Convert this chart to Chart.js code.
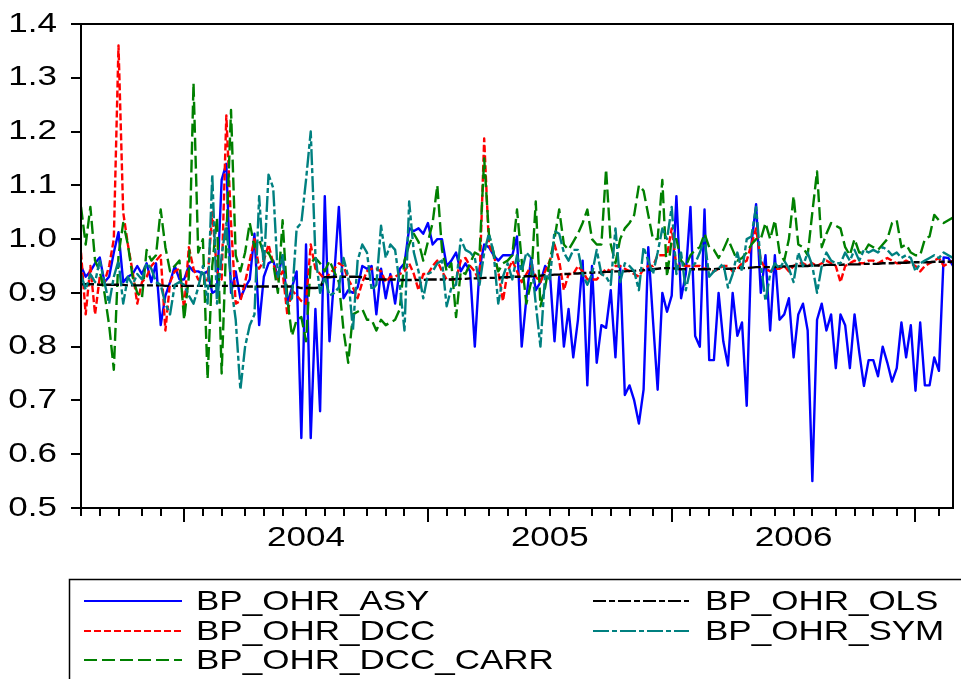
<!DOCTYPE html>
<html>
<head>
<meta charset="utf-8">
<title>BP optimal hedge ratios</title>
<script src="https://cdn.jsdelivr.net/npm/chart.js@4.4.0/dist/chart.umd.min.js"></script>
<style>
  html, body { margin: 0; padding: 0; background: #fff; }
  #chart-wrap { width: 961px; height: 679px; }
</style>
</head>
<body>
<div id="chart-wrap"><canvas id="hedgeChart" width="961" height="679"></canvas></div>
<script>
// Weekly hedge ratios, Aug 2003 - Feb 2007 (one value per week)
const asy = [
  0.95, 0.93, 0.94, 0.955, 0.966, 0.92, 0.93, 0.975, 1.013, 0.92,
  0.93, 0.935, 0.95, 0.935, 0.955, 0.92, 0.955, 0.84, 0.895, 0.92,
  0.95, 0.925, 0.925, 0.95, 0.94, 0.94, 0.935, 0.94, 0.90, 0.905,
  1.11, 1.14, 0.90, 0.94, 0.89, 0.91, 0.925, 1.01, 0.84, 0.93,
  0.955, 0.96, 0.93, 0.97, 0.88, 0.91, 0.94, 0.63, 0.99, 0.63,
  0.87, 0.68, 1.08, 0.81, 0.93, 1.06, 0.89, 0.905, 0.90, 0.91,
  0.95, 0.945, 0.95, 0.86, 0.945, 0.89, 0.935, 0.88, 0.945, 0.955,
  1.02, 1.015, 1.02, 1.01, 1.03, 0.99, 1.0, 1.0, 0.95, 0.96,
  0.975, 0.94, 0.955, 0.94, 0.80, 0.945, 0.99, 0.985, 0.97, 0.96,
  0.97, 0.97, 0.97, 1.005, 0.80, 0.89, 0.965, 0.905, 0.92, 0.95,
  0.94, 0.81, 0.93, 0.80, 0.87, 0.78, 0.85, 0.96, 0.728, 0.95,
  0.77, 0.84, 0.835, 0.905, 0.78, 0.95, 0.71, 0.728, 0.70, 0.657,
  0.72, 0.985, 0.85, 0.72, 0.90, 0.865, 0.895, 1.08, 0.89, 0.935,
  1.06, 0.82, 0.80, 1.055, 0.775, 0.775, 0.90, 0.81, 0.765, 0.90,
  0.82, 0.845, 0.69, 0.99, 1.065, 0.90, 0.97, 0.83, 0.97, 0.85,
  0.86, 0.89, 0.78, 0.86, 0.88, 0.83, 0.55, 0.85, 0.88, 0.83,
  0.86, 0.76, 0.86, 0.84, 0.76, 0.86, 0.79, 0.727, 0.775, 0.775,
  0.745, 0.80, 0.77, 0.735, 0.76, 0.845, 0.78, 0.84, 0.718, 0.845,
  0.728, 0.728, 0.78, 0.755, 0.966, 0.965, 0.95
];

const dcc = [
  0.975, 0.86, 0.95, 0.86, 0.93, 0.92, 0.95, 1.0, 1.36, 1.05,
  0.99, 0.94, 0.88, 0.92, 0.93, 0.95, 0.96, 0.97, 0.83, 0.92,
  0.94, 0.945, 0.87, 0.985, 0.945, 0.925, 0.92, 0.925, 1.05, 0.94,
  0.925, 1.23, 1.03, 0.88, 0.885, 0.92, 0.96, 1.0, 0.945, 0.96,
  0.99, 0.955, 0.925, 0.94, 0.86, 0.905, 0.895, 0.885, 0.88, 0.99,
  0.945, 0.935, 0.925, 0.935, 0.945, 0.955, 0.95, 0.925, 0.91, 0.89,
  0.92, 0.94, 0.945, 0.945, 0.94, 0.92, 0.93, 0.93, 0.935, 0.94,
  0.955, 0.935, 0.905, 0.935, 0.935, 0.95, 0.96, 0.94, 0.925, 0.925,
  0.925, 0.96, 0.965, 0.95, 0.94, 0.92, 1.187, 0.99, 0.97, 0.94,
  0.885, 0.94, 0.96, 0.94, 0.92, 0.935, 0.95, 0.93, 0.92, 0.94,
  0.96, 0.99, 0.96, 0.905, 0.935, 0.935, 0.95, 0.94, 0.925, 0.925,
  0.925, 0.935, 0.945, 0.94, 0.95, 0.95, 0.945, 0.94, 0.935, 0.93,
  0.945, 0.95, 0.95, 0.97, 0.97, 0.97, 1.02, 0.95, 0.95, 0.95,
  0.95, 0.95, 0.95, 0.945, 0.945, 0.94, 0.945, 0.95, 0.95, 0.94,
  0.945, 0.955, 0.96, 0.99, 1.02, 0.96, 0.945, 0.94, 0.945, 0.945,
  0.95, 0.94, 0.95, 0.955, 0.955, 0.95, 0.955, 0.95, 0.955, 0.96,
  0.955, 0.95, 0.92, 0.95, 0.955, 0.96, 0.955, 0.955, 0.96, 0.96,
  0.955, 0.96, 0.965, 0.96, 0.955, 0.955, 0.96, 0.955, 0.95, 0.94,
  0.95, 0.955, 0.96, 0.965, 0.95, 0.955, 0.96
];

const dccCarr = [
  1.06, 0.99, 1.06, 0.96, 0.94, 0.90, 0.84, 0.757, 0.97, 1.03,
  0.99, 0.93, 0.90, 0.89, 0.98, 0.96, 0.97, 1.055, 0.985, 0.94,
  0.95, 0.96, 0.85, 0.93, 1.29, 0.975, 1.0, 0.74, 0.95, 1.04,
  0.75, 1.0, 1.24, 0.97, 0.94, 0.975, 1.03, 0.985, 1.0, 0.97,
  0.975, 0.955, 0.90, 1.035, 0.89, 0.82, 0.85, 0.855, 0.81, 0.955,
  0.965, 0.955, 0.94, 0.96, 0.94, 0.92, 0.83, 0.77, 0.86, 0.865,
  0.87, 0.85, 0.85, 0.83, 0.85, 0.84, 0.845, 0.85, 0.87, 0.96,
  0.99, 1.01, 0.995, 0.96, 0.995, 1.03, 1.1, 0.98, 0.94, 0.955,
  0.855, 0.94, 0.935, 0.955, 0.975, 0.97, 1.15, 1.01, 0.975, 0.94,
  0.955, 0.96, 0.97, 1.055, 0.96, 0.88, 0.92, 1.07, 0.875, 0.91,
  0.96, 1.0, 1.055, 0.99, 0.98, 0.995, 1.01, 1.03, 1.055, 1.0,
  0.99, 0.99, 1.13, 0.99, 0.955, 1.0, 1.02, 1.03, 1.045, 1.1,
  1.09, 1.045, 1.0, 1.0, 1.11, 0.93, 1.0, 1.0, 0.96, 0.95,
  0.97, 0.98, 0.985, 1.01, 0.985, 0.98, 0.965, 0.98, 1.0, 0.98,
  0.96, 0.965, 0.975, 0.99, 1.0, 1.0, 1.03, 1.0, 1.035, 0.975,
  0.96, 1.0, 1.08, 0.99, 0.985, 0.97, 1.05, 1.126, 0.985, 1.01,
  1.03, 1.025, 1.02, 0.985, 0.97, 1.0, 0.975, 0.975, 0.99, 0.985,
  0.98, 0.99, 1.0, 1.03, 1.035, 0.985, 0.99, 0.975, 0.97, 0.97,
  1.0, 1.005, 1.045, 1.035, 1.03, 1.035, 1.04
];

const ols = [
  0.916, 0.916, 0.916, 0.916, 0.915, 0.915, 0.915, 0.915, 0.915, 0.915,
  0.914, 0.914, 0.914, 0.914, 0.914, 0.914, 0.914, 0.914, 0.913, 0.913,
  0.913, 0.913, 0.913, 0.913, 0.913, 0.913, 0.913, 0.913, 0.913, 0.913,
  0.913, 0.913, 0.913, 0.913, 0.913, 0.912, 0.912, 0.912, 0.912, 0.912,
  0.912, 0.912, 0.912, 0.912, 0.912, 0.912, 0.911, 0.909, 0.909, 0.909,
  0.909, 0.91, 0.929, 0.929, 0.93, 0.93, 0.93, 0.93, 0.93, 0.93,
  0.929, 0.926, 0.926, 0.925, 0.925, 0.925, 0.925, 0.925, 0.924, 0.924,
  0.924, 0.924, 0.924, 0.924, 0.925, 0.925, 0.925, 0.925, 0.925, 0.925,
  0.926, 0.926, 0.926, 0.927, 0.927, 0.927, 0.928, 0.928, 0.928, 0.928,
  0.929, 0.929, 0.93, 0.93, 0.93, 0.931, 0.931, 0.932, 0.932, 0.933,
  0.933, 0.934, 0.934, 0.935, 0.935, 0.936, 0.936, 0.937, 0.937, 0.938,
  0.938, 0.938, 0.939, 0.939, 0.94, 0.94, 0.94, 0.941, 0.941, 0.942,
  0.942, 0.943, 0.944, 0.945, 0.946, 0.946, 0.946, 0.945, 0.944, 0.944,
  0.944, 0.944, 0.944, 0.944, 0.944, 0.944, 0.945, 0.945, 0.945, 0.945,
  0.946, 0.946, 0.946, 0.947, 0.948, 0.948, 0.948, 0.948, 0.948, 0.949,
  0.949, 0.949, 0.95, 0.95, 0.95, 0.95, 0.951, 0.951, 0.951, 0.952,
  0.952, 0.952, 0.952, 0.953, 0.953, 0.953, 0.953, 0.954, 0.954, 0.954,
  0.954, 0.955, 0.955, 0.955, 0.956, 0.956, 0.956, 0.957, 0.957, 0.957,
  0.957, 0.957, 0.958, 0.958, 0.958, 0.958, 0.958
];

const sym = [
  0.935, 0.906, 0.935, 0.92, 0.96, 0.92, 0.88, 0.93, 0.96, 0.88,
  0.93, 0.915, 0.935, 0.925, 0.955, 0.945, 0.92, 0.915, 0.88, 0.86,
  0.915, 0.92, 0.915, 0.895, 0.88, 0.91, 0.95, 0.88, 1.12, 0.88,
  0.97, 1.03, 0.915, 0.85, 0.72, 0.80, 0.84, 0.86, 1.08, 0.945,
  1.12, 1.095, 0.93, 0.97, 0.88, 0.89, 1.02, 1.03, 1.11, 1.2,
  0.97, 0.90, 0.93, 0.895, 0.90, 0.91, 0.965, 0.93, 0.83, 0.96,
  0.99, 0.975, 0.905, 0.915, 1.025, 0.965, 0.99, 0.98, 0.915, 0.83,
  1.07, 0.975, 0.94, 0.89, 0.935, 0.94, 0.955, 0.96, 0.875, 0.91,
  0.915, 1.0, 0.98, 0.975, 0.965, 0.915, 0.975, 1.01, 0.975, 0.88,
  0.93, 0.955, 0.925, 0.97, 0.94, 0.975, 0.965, 0.88, 0.80, 0.935,
  0.925, 1.015, 1.01, 0.975, 0.96, 0.98, 0.98, 0.935, 0.915, 0.935,
  0.98, 0.935, 0.93, 0.915, 1.02, 0.92, 0.955, 0.95, 0.94, 0.905,
  0.985, 0.96, 0.935, 0.975, 1.02, 1.0, 1.06, 0.935, 0.975, 0.905,
  0.945, 0.955, 0.975, 1.0, 0.93, 0.94, 0.945, 0.955, 0.91, 0.935,
  0.975, 0.94, 1.0, 1.005, 1.06, 0.955, 0.885, 0.935, 0.955, 0.945,
  0.96, 0.945, 0.92, 0.975, 0.95, 0.975, 0.95, 0.90, 0.95, 0.975,
  0.96, 0.955, 0.955, 0.975, 0.96, 0.98, 0.96, 0.98, 0.975, 0.98,
  0.975, 0.985, 0.98, 0.97, 0.975, 0.965, 0.97, 0.965, 0.94, 0.955,
  0.96, 0.965, 0.97, 0.965, 0.975, 0.97, 0.965
];

// Axis layout: week index of each month start, year starts and year label positions
const monthTicks = [0, 4, 8, 13, 17, 22, 26, 30, 35, 39, 43, 48, 52, 56, 61, 65, 69,
  74, 78, 82, 87, 91, 95, 100, 104, 109, 113, 117, 122, 126, 130, 134, 139, 143,
  148, 152, 156, 161, 165, 169, 174, 178, 183];
const yearStarts = [22, 74, 126, 178];
const yearLabels = ['2004', '2005', '2006'];
const yearMids = [48, 100, 152];
const yTicks = [0.5, 0.6, 0.7, 0.8, 0.9, 1.0, 1.1, 1.2, 1.3, 1.4];

const FONT = '28px "Liberation Sans", Arial, sans-serif';
const STRETCH = 1.25;

function toPoints(values) {
  return values.map((v, i) => ({ x: i, y: v }));
}

// wide, slightly stretched text like the EViews export
function wideText(ctx, text, x, y, align) {
  ctx.save();
  ctx.translate(x, y);
  ctx.scale(STRETCH, 1);
  ctx.textAlign = align;
  ctx.fillText(text, 0, 0);
  ctx.restore();
}

const series = [
  { label: 'BP_OHR_ASY', values: asy, color: '#0000ff', dash: [], order: 5, col: 0, row: 0 },
  { label: 'BP_OHR_DCC', values: dcc, color: '#ff0000', dash: [7, 3], order: 4, col: 0, row: 1 },
  { label: 'BP_OHR_DCC_CARR', values: dccCarr, color: '#008000', dash: [13, 5], order: 3, col: 0, row: 2 },
  { label: 'BP_OHR_OLS', values: ols, color: '#000000', dash: [13, 3, 6, 3], order: 2, col: 1, row: 0 },
  { label: 'BP_OHR_SYM', values: sym, color: '#008080', dash: [16, 3, 5, 3], order: 1, col: 1, row: 1 }
];

const legendCols = [{ lineFrom: 84, lineTo: 182, text: 196 }, { lineFrom: 593, lineTo: 689, text: 705 }];
const legendRows = [601, 631, 660];

const frameAndLabels = {
  id: 'frameAndLabels',
  afterDraw(chart) {
    const { ctx, chartArea: area, scales } = chart;
    ctx.save();

    // box round the plot
    ctx.strokeStyle = '#000';
    ctx.lineWidth = 2;
    ctx.strokeRect(area.left, area.top, area.right - area.left, area.bottom - area.top);

    // longer ticks at the start of each year
    ctx.beginPath();
    yearStarts.forEach(v => {
      const px = Math.round(scales.x.getPixelForValue(v));
      ctx.moveTo(px, area.bottom);
      ctx.lineTo(px, area.bottom + 14);
    });
    ctx.stroke();

    // tick labels
    ctx.fillStyle = '#000';
    ctx.font = FONT;
    ctx.textBaseline = 'middle';
    yTicks.forEach(v => wideText(ctx, v.toFixed(1), 57, scales.y.getPixelForValue(v), 'right'));
    yearLabels.forEach((t, k) => wideText(ctx, t, scales.x.getPixelForValue(yearMids[k]), 538, 'center'));

    // legend
    ctx.lineWidth = 1.5;
    ctx.strokeRect(69.5, 579.5, 960, 200);
    series.forEach(s => {
      const c = legendCols[s.col];
      const y = legendRows[s.row];
      ctx.strokeStyle = s.color;
      ctx.lineWidth = 2;
      ctx.setLineDash(s.dash);
      ctx.beginPath();
      ctx.moveTo(c.lineFrom, y);
      ctx.lineTo(c.lineTo, y);
      ctx.stroke();
      ctx.setLineDash([]);
      wideText(ctx, s.label, c.text, y + 1, 'left');
    });

    ctx.restore();
  }
};

new Chart(document.getElementById('hedgeChart'), {
  type: 'line',
  data: {
    datasets: series.map(s => ({
      label: s.label,
      data: toPoints(s.values),
      borderColor: s.color,
      borderDash: s.dash,
      borderWidth: 2.4,
      borderJoinStyle: 'round',
      pointRadius: 0,
      fill: false,
      tension: 0,
      order: s.order
    }))
  },
  options: {
    responsive: false,
    animation: false,
    devicePixelRatio: 1,
    layout: { padding: { left: 0, right: 8, top: 24, bottom: 0 } },
    plugins: {
      legend: { display: false },
      tooltip: { enabled: false }
    },
    scales: {
      x: {
        type: 'linear',
        min: 0,
        max: 186,
        afterBuildTicks: scale => { scale.ticks = monthTicks.map(v => ({ value: v })); },
        afterFit: scale => { scale.height = 171; },
        ticks: { display: false },
        grid: { drawOnChartArea: false, drawTicks: true, tickLength: 8, color: '#000', lineWidth: 2 },
        border: { display: true, color: '#000', width: 2 }
      },
      y: {
        type: 'linear',
        min: 0.5,
        max: 1.4,
        afterBuildTicks: scale => { scale.ticks = yTicks.map(v => ({ value: v })); },
        afterFit: scale => { scale.width = 81; },
        ticks: { display: false },
        grid: { drawOnChartArea: false, drawTicks: true, tickLength: 10, color: '#000', lineWidth: 2 },
        border: { display: true, color: '#000', width: 2 }
      }
    }
  },
  plugins: [frameAndLabels]
});
</script>
</body>
</html>
